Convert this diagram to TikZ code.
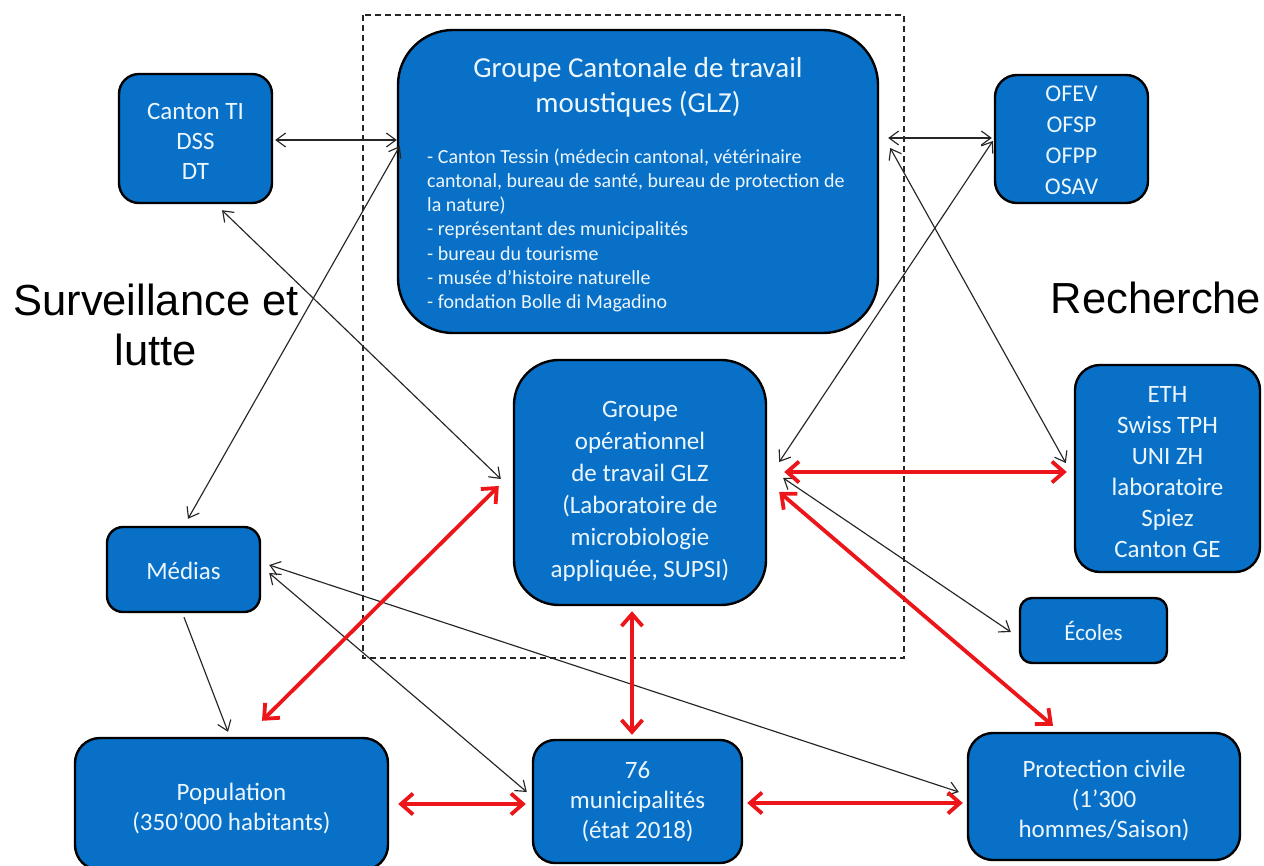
\documentclass[tikz,border=0pt]{standalone}
\usepackage{fontspec}
\setmainfont{Carlito}
\newfontfamily\arialf{Liberation Sans}
\usetikzlibrary{arrows.meta,calc}
\definecolor{boxblue}{RGB}{8,112,198}
\definecolor{txtwhite}{RGB}{236,246,255}
\definecolor{redarr}{RGB}{236,22,26}
\newcommand\myfs[2]{\fontsize{#1}{#2}\selectfont}
\begin{document}
\begin{tikzpicture}[x=1pt,y=-1pt,
  box/.style={draw=black, line width=2.4pt, fill=boxblue, text=txtwhite, align=center, inner sep=0pt},
  boxtext/.style={text=txtwhite, align=center, inner sep=0pt, font=\myfs{25}{#1}},
  blk/.style={draw=black!85, line width=1.15pt, {Straight Barb[length=9.5pt,width=14pt]}-{Straight Barb[length=9.5pt,width=14pt]}},
  blkone/.style={draw=black!85, line width=1.15pt, -{Straight Barb[length=9.5pt,width=14pt]}},
  redlink/.style={draw=redarr, line width=3.8pt, {Straight Barb[length=12pt,width=21pt]}-{Straight Barb[length=12pt,width=21pt]}},
  grpframe/.style={draw=black!85, line width=1.2pt, dash pattern=on 6pt off 4pt}
]
\useasboundingbox (0,0) rectangle (1264,865);
\fill[white] (0,0) rectangle (1264,865);

\draw[grpframe] (363,15) rectangle (904,658);

% boxes
\node[box, minimum width=480pt, minimum height=303pt, rounded corners=55pt] (glz) at (638,181.5) {};
\node[text=txtwhite, align=center, font=\myfs{29}{35}] (glztitle) at (638,87) {Groupe Cantonale de travail\\moustiques (GLZ)};
\node[text=txtwhite, align=left, anchor=north west, inner sep=0pt, font=\myfs{20}{24.2}] (glzbody) at (427,148.5) {- Canton Tessin (médecin cantonal, vétérinaire\\cantonal, bureau de santé, bureau de protection de\\la nature)\\- représentant des municipalités\\- bureau du tourisme\\- musée d'histoire naturelle\\- fondation Bolle di Magadino};

\node[box, minimum width=153pt, minimum height=129pt, rounded corners=20pt,
  label={[boxtext=30, yshift=-2.5pt]center:{Canton TI\\DSS\\DT}}] (ti) at (195.5,138.5) {};
\node[box, minimum width=153pt, minimum height=128pt, rounded corners=22pt,
  label={[boxtext=31, font=\myfs{24}{31}, yshift=-1.5pt]center:{OFEV\\OFSP\\OFPP\\OSAV}}] (ofev) at (1071.5,139) {};
\node[box, minimum width=252pt, minimum height=245pt, rounded corners=45pt,
  label={[boxtext=32, yshift=-8.5pt]center:{Groupe\\opérationnel\\de travail GLZ\\(Laboratoire de\\microbiologie\\appliquée, SUPSI)}}] (op) at (640,482.5) {};
\node[box, minimum width=185pt, minimum height=207pt, rounded corners=25pt,
  label={[boxtext=31, yshift=-4pt]center:{ETH\\Swiss TPH\\UNI ZH\\laboratoire\\Spiez\\Canton GE}}] (eth) at (1167.5,468.5) {};
\node[box, minimum width=153pt, minimum height=85pt, rounded corners=16pt,
  label={[boxtext=30, yshift=-1pt]center:{Médias}}] (med) at (183.5,569.5) {};
\node[box, minimum width=147pt, minimum height=65pt, rounded corners=12pt,
  label={[boxtext=28, font=\myfs{23}{28}]center:{Écoles}}] (eco) at (1093.5,630.5) {};
\node[box, minimum width=313pt, minimum height=132pt, rounded corners=25pt,
  label={[boxtext=30, yshift=-5pt]center:{Population\\(350’000 habitants)}}] (pop) at (231.5,804) {};
\node[box, minimum width=209pt, minimum height=123pt, rounded corners=22pt,
  label={[boxtext=30]center:{76\\municipalités\\(état 2018)}}] (mun) at (637.5,801.5) {};
\node[box, minimum width=272pt, minimum height=127pt, rounded corners=25pt,
  label={[boxtext=30, yshift=-4pt]center:{Protection civile\\(1’300\\hommes/Saison)}}] (pc) at (1104,796.5) {};

% side labels
\node[font=\arialf\myfs{43.5}{50}, align=center] (surv) at (156,325) {Surveillance et\\lutte};
\node[font=\arialf\myfs{43.5}{50}] (rech) at (1156,298) {Recherche};

% black connectors
\draw[blk] ($(ti.east)+(2,1.5)$) -- ($(glz.west)+(0,-41.5)$);
\draw[blk] ($(ti.south)+(26.5,6)$) -- ($(op.west)+(-12,-3.5)$);
\draw[blk] ($(glz.west)+(3,-35.5)$) -- ($(med.north)+(4.5,-7)$);
\draw[blk] ($(glz.east)+(9,-43.5)$) -- ($(ofev.west)+(-2,-1)$);
\draw[blk] ($(glz.east)+(11,-33.5)$) -- ($(eth.west)+(-8,-5.5)$);
\draw[blk] ($(ofev.west)+(-1,2)$) -- ($(op.east)+(12,-20.5)$);
\draw[blk] ($(op.east)+(16,-4.5)$) -- ($(eco.west)+(-8,1.5)$);
\draw[blk] ($(med.east)+(8,-4.5)$) -- ($(pc.west)+(-8,-4.5)$);
\draw[blk] ($(med.east)+(8,3.5)$) -- ($(mun.west)+(-5,-9.5)$);
\draw[blkone] ($(med.south)+(0.5,4)$) -- ($(pop.north)+(-3.5,-5)$);

% red connectors
\draw[redlink] ($(op.east)+(17,-10.5)$) -- ($(eth.west)+(-7,3.5)$);
\draw[redlink] ($(op.west)+(-14,3.5)$) -- ($(pop.north)+(30.5,-16)$);
\draw[redlink] ($(op.south)+(-8,5)$) -- ($(mun.north)+(-5.5,-4)$);
\draw[redlink] ($(op.east)+(12,9.5)$) -- ($(pc.north)+(-51,-6)$);
\draw[redlink] ($(pop.east)+(9,0)$) -- ($(mun.west)+(-6,2.5)$);
\draw[redlink] ($(mun.east)+(4,1.5)$) -- ($(pc.west)+(-4,6.5)$);
\end{tikzpicture}
\end{document}
